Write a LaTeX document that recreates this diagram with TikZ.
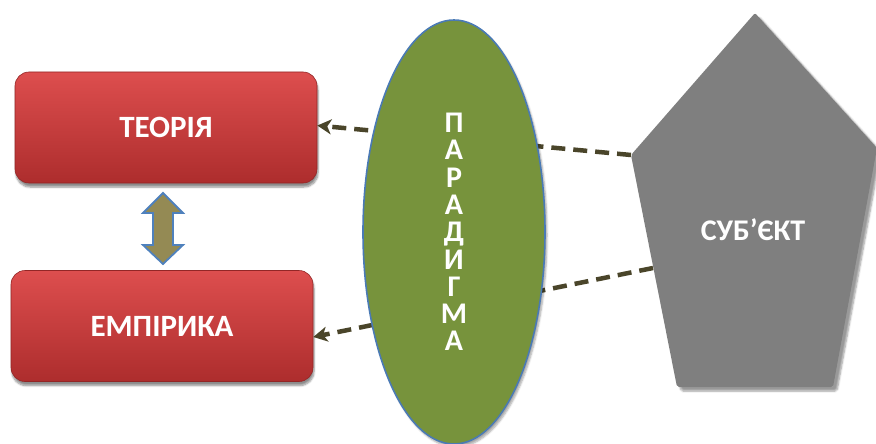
\documentclass[tikz,border=0pt]{standalone}
\usepackage{fontspec}
\setmainfont{Carlito}
\usetikzlibrary{shapes.geometric,shadows.blur,arrows.meta}
\definecolor{boxtop}{HTML}{DD4E4E}
\definecolor{boxbot}{HTML}{AD2D2D}
\definecolor{ellfill}{HTML}{77933C}
\definecolor{ellline}{HTML}{4A7AB5}
\definecolor{pentfill}{HTML}{7F7F7F}
\definecolor{dashcol}{HTML}{4A452A}
\definecolor{arrfill}{HTML}{948A54}
\definecolor{arrline}{HTML}{4F81BD}
\tikzset{
  redbox/.style={rectangle, rounded corners=14pt, top color=boxtop, bottom color=boxbot,
    draw=boxbot!85!black, line width=0.6pt,
    minimum width=302pt, minimum height=111pt, text=white,
    font=\bfseries\fontsize{31}{34}\selectfont,
    blur shadow={shadow xshift=1pt, shadow yshift=-4pt, shadow blur steps=6, shadow opacity=45}},
  dashlink/.style={draw=dashcol, line width=4.5pt, dash pattern=on 14pt off 8pt,
    -{Stealth[length=14pt,width=15pt,inset=4pt]}},
  whitelabel/.style={text=white, font=\bfseries\fontsize{30}{27.3}\selectfont}
}
\begin{document}
\begin{tikzpicture}[x=1pt,y=-1pt]
\useasboundingbox (0,0) rectangle (876,444);

% boxes
\node[redbox] (teoria) at (166,127.5) {ТЕОРІЯ};
\node[redbox] (emp) at (162,326) {ЕМПІРИКА};

% double arrow between boxes
\coordinate (dtop) at (163,193);
\coordinate (dbot) at (163,264);
\path[fill=arrfill, draw=arrline, line width=1.8pt, line join=miter]
  (dtop) -- ++(20,20) -- ++(-10,0) -- ++(0,32) -- ++(10,0) -- (dbot)
  -- ++(-20,-19) -- ++(10,0) -- ++(0,-32) -- ++(-10,0) -- cycle;

% pentagon vertices
\coordinate (pt) at (755,13);
\coordinate (pl) at (631,155);
\coordinate (pr) at (877,148);
\coordinate (pbr) at (833,387);
\coordinate (pbl) at (677,387);
\coordinate (pedge) at (653,268);
\path[fill=pentfill, rounded corners=2pt,
  blur shadow={shadow xshift=4pt, shadow yshift=-4pt, shadow blur steps=6, shadow opacity=40}]
  (pt) -- (pr) -- (pbr) -- (pbl) -- (pl) -- cycle;
\node[whitelabel] (subj) at (753,230) {СУБ’ЄКТ};

% dashed connectors (under the ellipse)
\draw[dashlink] (pl) -- ([yshift=2pt]teoria.east);
\draw[dashlink] (pedge) -- ([yshift=-11pt]emp.east);

% ellipse
\node[ellipse, fill=ellfill, draw=ellline, line width=1.6pt, inner sep=0pt,
  minimum width=182pt, minimum height=424pt, align=center,
  whitelabel,
  blur shadow={shadow xshift=2pt, shadow yshift=-3pt, shadow blur steps=5, shadow opacity=35}]
  (par) at (454,232) {П\\А\\Р\\А\\Д\\И\\Г\\М\\А};
\end{tikzpicture}
\end{document}
